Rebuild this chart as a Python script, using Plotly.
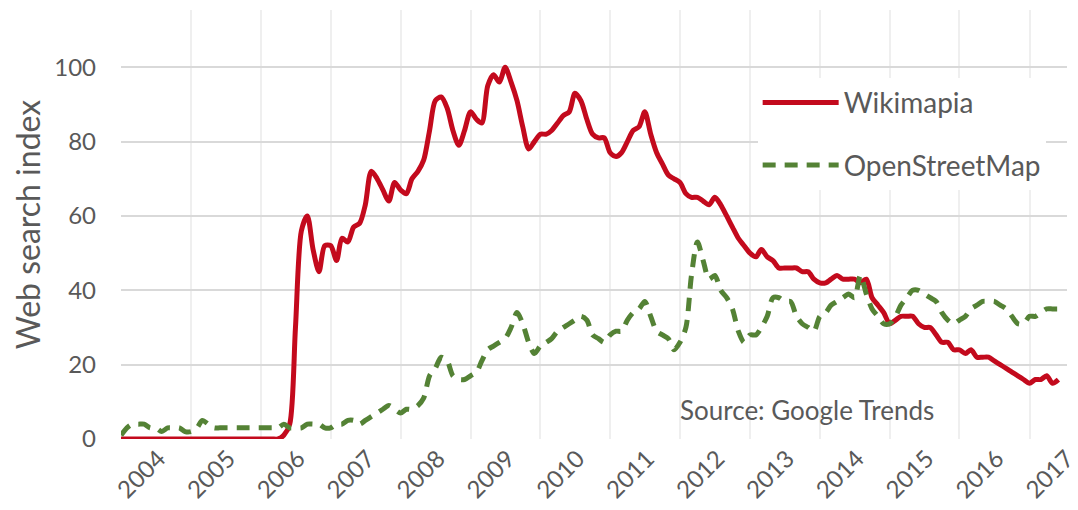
import plotly.graph_objects as go
import pandas as pd

# Monthly Google Trends web-search index, Jan 2004 - Jun 2017
months = pd.date_range("2004-01-01", periods=162, freq="MS")

wikimapia = [
    0, 0, 0, 0, 0, 0, 0, 0, 0, 0, 0, 0,            # 2004
    0, 0, 0, 0, 0, 0, 0, 0, 0, 0, 0, 0,            # 2005
    0, 0, 0, 0, 1, 4, 30, 56, 60, 51, 45, 52,      # 2006
    52, 48, 54, 53, 57, 58, 63, 72, 70, 67, 64, 69,  # 2007
    67, 66, 70, 72, 75, 83, 91, 92, 89, 83, 79, 83,  # 2008
    88, 86, 85, 95, 98, 96, 100, 96, 91, 84, 78, 80,  # 2009
    82, 82, 83, 85, 87, 88, 93, 91, 86, 82, 81, 81,  # 2010
    77, 76, 77, 80, 83, 84, 88, 82, 77, 74, 71, 70,  # 2011
    69, 66, 65, 65, 64, 63, 65, 63, 60, 57, 54, 52,  # 2012
    50, 49, 51, 49, 48, 46, 46, 46, 46, 45, 45, 43,  # 2013
    42, 42, 43, 44, 43, 43, 43, 42, 43, 38, 36, 34,  # 2014
    31, 32, 33, 33, 33, 31, 30, 30, 28, 26, 26, 24,  # 2015
    24, 23, 24, 22, 22, 22, 21, 20, 19, 18, 17, 16,  # 2016
    15, 16, 16, 17, 15, 16,                          # 2017
]

openstreetmap = [
    1, 3, 4, 4, 4, 3, 3, 2, 3, 3, 3, 2,              # 2004
    2, 3, 5, 4, 3, 3, 3, 3, 3, 3, 3, 3,              # 2005
    3, 3, 3, 3, 4, 3, 3, 3, 4, 4, 4, 3,              # 2006
    3, 4, 4, 5, 5, 4, 5, 6, 7, 8, 9, 8,              # 2007
    7, 8, 8, 9, 11, 17, 19, 22, 21, 17, 16, 16,      # 2008
    17, 18, 21, 24, 25, 26, 27, 30, 34, 31, 26, 23,  # 2009
    25, 26, 27, 29, 30, 31, 32, 33, 32, 28, 27, 26,  # 2010
    28, 29, 29, 32, 34, 35, 37, 33, 29, 28, 27, 24,  # 2011
    26, 30, 44, 53, 48, 43, 44, 40, 38, 35, 29, 26,  # 2012
    28, 28, 30, 33, 38, 38, 37, 37, 33, 31, 30, 29,  # 2013
    33, 34, 36, 37, 38, 39, 38, 44, 39, 35, 33, 31,  # 2014
    31, 33, 36, 38, 40, 40, 39, 38, 37, 34, 32, 31,  # 2015
    32, 33, 35, 36, 37, 37, 37, 36, 35, 33, 31, 31,  # 2016
    33, 33, 34, 35, 35, 35,                          # 2017
]

years = list(range(2004, 2018))
year_labels = [str(y) for y in years]
series_names = ["Wikimapia", "OpenStreetMap"]
y_ticks = [0, 20, 40, 60, 80, 100]

assert len(wikimapia) == len(months) == len(openstreetmap)

RED = "#C30A1D"
GREEN = "#548235"
TEXT = "#595959"
FONT = "Lato"

fig = go.Figure()
fig.add_trace(go.Scatter(
    x=months, y=wikimapia, name=series_names[0], mode="lines",
    line=dict(color=RED, width=5, shape="spline", smoothing=0.8),
    legendgroup="a",
))
fig.add_trace(go.Scatter(
    x=months, y=openstreetmap, name=series_names[1], mode="lines",
    line=dict(color=GREEN, width=5, dash="13px,9px", shape="spline", smoothing=0.8),
    legendgroup="b",
))

tick_positions = [f"{y}-07-15" for y in years]

# the page body has an 8px margin, so the figure is drawn 8px right/down
fig.update_layout(
    width=1078, height=510,
    margin=dict(l=113, r=19, t=2, b=79, autoexpand=False),
    paper_bgcolor="white", plot_bgcolor="white",
    font=dict(family=FONT, color=TEXT),
    showlegend=True,
    legend=dict(
        x=0.673, y=0.842, xanchor="left", yanchor="top",
        bgcolor="white", font=dict(size=28, color=TEXT, family=FONT),
        tracegroupgap=23, itemwidth=76,
    ),
    xaxis=dict(
        type="date", automargin=False,
        range=["2004-01-01", "2017-07-16"],
        tickmode="array", tickvals=tick_positions, ticktext=year_labels,
        tickangle=-45, tickfont=dict(size=24, color=TEXT, family=FONT),
        ticklabeloverflow="allow",
        showgrid=False, ticks="", zeroline=False, showline=False,
        minor=dict(tickmode="linear", tick0="2004-01-01", dtick="M12",
                   showgrid=True, gridcolor="#EFEFEF", gridwidth=2, ticks=""),
        fixedrange=True,
    ),
    yaxis=dict(
        automargin=False,
        range=[0, 115.4], tickvals=y_ticks,
        showgrid=True, gridcolor="#D9D9D9", gridwidth=2,
        zeroline=False, showline=False, ticks="",
        tickfont=dict(size=24, color=TEXT, family=FONT),
        ticklabelstandoff=24,
        title=dict(text="Web search index", font=dict(size=32, color=TEXT, family=FONT), standoff=12),
        fixedrange=True,
    ),
    annotations=[dict(
        text="Source: Google Trends", xref="paper", yref="paper",
        x=0.589, y=0.068, xanchor="left", yanchor="middle", showarrow=False,
        font=dict(size=26, color=TEXT, family=FONT),
    )],
)

fig.write_html("out.html")
